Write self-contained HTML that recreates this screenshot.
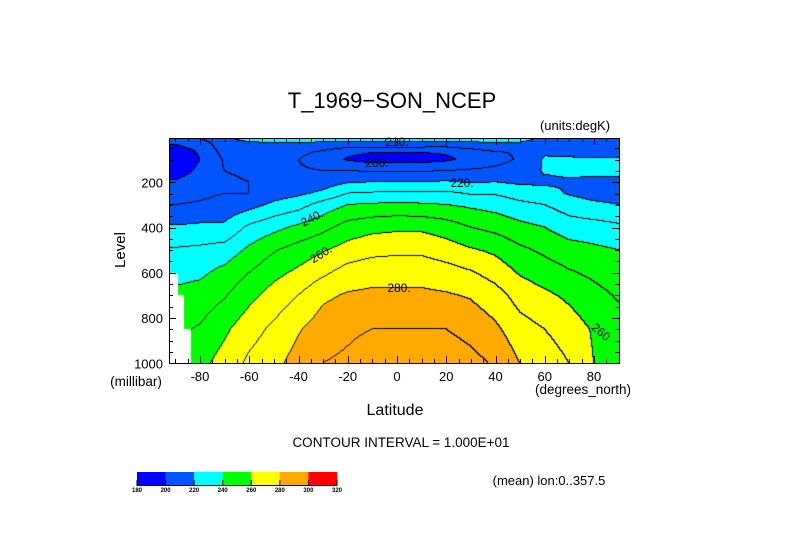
<!DOCTYPE html>
<html><head><meta charset="utf-8">
<style>
html,body{margin:0;padding:0;background:#fff;}
#wrap{position:relative;width:789px;height:558px;overflow:hidden;font-family:"Liberation Sans",sans-serif;}
#cv{position:absolute;left:169px;top:138px;}
svg{position:absolute;left:0;top:0;}
</style></head><body>
<div id="wrap">
<canvas id="cv" width="450" height="225"></canvas>
<svg id="sv" width="789" height="558">
<text x="392" y="108" font-size="22" text-anchor="middle">T_1969−SON_NCEP</text>
<text x="575" y="130" font-size="13" text-anchor="middle">(units:degK)</text>
<text x="125" y="250" font-size="15" text-anchor="middle" transform="rotate(-90 125 250)">Level</text>
<text x="136" y="386" font-size="13.5" text-anchor="middle">(millibar)</text>
<text x="583" y="394" font-size="13.5" text-anchor="middle">(degrees_north)</text>
<text x="395" y="415" font-size="16" text-anchor="middle">Latitude</text>
<text x="401" y="447" font-size="13.5" text-anchor="middle">CONTOUR INTERVAL = 1.000E+01</text>
<text x="549" y="485" font-size="13" text-anchor="middle">(mean) lon:0..357.5</text>
<g id="labels" font-size="12" fill="#000">
<text x="397" y="146" text-anchor="middle">210.</text>
<text x="377" y="167" text-anchor="middle">200.</text>
<text x="462" y="187" text-anchor="middle">220.</text>
<text x="312" y="222" text-anchor="middle" transform="rotate(-28 312 218)">240.</text>
<text x="321" y="258" text-anchor="middle" transform="rotate(-32 321 254)">260.</text>
<text x="399" y="292" text-anchor="middle">280.</text>
<text x="601" y="336" text-anchor="middle" transform="rotate(40 601 332)">260</text>
</g>
<g id="axes"></g>
<g id="cbar"></g>
</svg>
</div>
<script>
// ---- data ----
const lats=[-90,-80,-70,-60,-50,-40,-30,-20,-10,0,10,20,30,40,50,60,70,80,90];
const levels=[5,30,70,100,150,200,250,300,400,500,600,700,850,1000];
const tS90=[207,201,193,191,195,201,206,210,221,231,237,242,248,253];
const tS80=[210,205,201,200,202,205,208,211,222,232,238,244,251,257];
const tS70=[219,216,213,211,210,209,210,213,222,234,243,249,258,264];
const tS60=[223,219,214,212,211,210,210,216,232,242,250,257,266,272];
const tS50=[224,219,213,211,211,212,215,222,237,249,257,264,272,277];
const tS40=[225,219,212,210,211,213,218,226,242,254,262,270,279,284];
const tS30=[226,218,208,206,210,215,222,234,247,259,268,278,285,290];
const tS20=[227,217,202,199,210,219,230,240,254,264,274,281,288,292];
const tS10=[228,217,200,196,209,220,231,241,257,267,276,282,290,296];
const tEq =[228,217,200,196,209,220,232,242,258,268,276,282,290,297];
const tN10=[228,217,200,196,209,220,232,241,258,268,276,282,290,296];
const tN20=[227,216,201,198,210,221,232,240,255,265,274,281,290,296];
const tN30=[226,218,205,203,211,219,229,238,250,261,271,279,287,293];
const tN40=[225,219,209,207,212,220,229,236,247,258,266,274,282,289];
const tN50=[224,219,211,211,214,218,226,232,243,252,259,266,274,280];
const tN60=[217,217,219,221,221,218,224,230,240,248,255,262,270,276];
const tN70=[214,215,218,221,222,219,219,225,235,244,251,258,265,270];
const tN80=[213,214,217,221,222,218,216,222,234,242,248,253,259,260];
const tN90=[212,213,217,221,222,218,215,220,232,240,245,249,254,257];
const grid=[tS90,tS80,tS70,tS60,tS50,tS40,tS30,tS20,tS10,tEq,tN10,tN20,tN30,tN40,tN50,tN60,tN70,tN80,tN90];
const bandColors=["#0000ff","#0055ff","#00ffff","#00ff00","#ffff00","#ffaa00","#ff0000"];
const cbarTicks=[180,200,220,240,260,280,300,320];
const xTickLabels=[-80,-60,-40,-20,0,20,40,60,80];
const yTickLabels=[200,400,600,800,1000];
// below-ground (missing) mask: [level threshold, latitude edge]
const groundLevels=[600,700,850];
const groundLats=[-89,-86.6,-83.8];

// ---- scales ----
const X0=169,X1=619,Y0=138,Y1=363;
function xs(lat){return 397+2.4625*lat;}
function ys(p){return 137+0.22625*p;}
function latOf(x){return (x-397)/2.4625;}
function pOf(y){return (y-137)/0.22625;}

function T(lat,p){
  lat=Math.max(-90,Math.min(90,lat));
  p=Math.max(levels[0],Math.min(1000,p));
  let i=Math.min(lats.length-2,Math.floor((lat+90)/10));
  let fx=(lat-lats[i])/10;
  let j=0; while(j<levels.length-2 && p>levels[j+1]) j++;
  let fy=(p-levels[j])/(levels[j+1]-levels[j]);
  const a=grid[i][j],b=grid[i+1][j],c=grid[i][j+1],d=grid[i+1][j+1];
  return (a*(1-fx)+b*fx)*(1-fy)+(c*(1-fx)+d*fx)*fy;
}
function missing(lat,p){
  for(let k=0;k<groundLevels.length;k++){ if(p>=groundLevels[k]&&lat<groundLats[k]) return true; }
  return false;
}
function hex(h){return [parseInt(h.substr(1,2),16),parseInt(h.substr(3,2),16),parseInt(h.substr(5,2),16)];}
const rgb=bandColors.map(hex);

// ---- draw field ----
(function(){
  const cv=document.getElementById('cv');const ctx=cv.getContext('2d');
  const W=cv.width,H=cv.height;const img=ctx.createImageData(W,H);
  const tv=new Float32Array(W*H);const ms=new Uint8Array(W*H);
  for(let y=0;y<H;y++)for(let x=0;x<W;x++){
    const la=latOf(X0+x+0.5),p=pOf(Y0+y+0.5);
    tv[y*W+x]=T(la,p);ms[y*W+x]=missing(la,p)?1:0;
  }
  for(let y=0;y<H;y++)for(let x=0;x<W;x++){
    const k=y*W+x;let c;
    if(ms[k]){c=[255,255,255];}
    else{
      const t=tv[k];let bi=Math.floor((t-180)/20);bi=Math.max(0,Math.min(6,bi));c=rgb[bi];
      const lv=Math.floor(t/10);let line=false;
      if(x+1<W&&!ms[k+1]&&Math.floor(tv[k+1]/10)!==lv)line=true;
      if(y+1<H&&!ms[k+W]&&Math.floor(tv[k+W]/10)!==lv)line=true;
      if(line)c=[0,0,0];
    }
    img.data[k*4]=c[0];img.data[k*4+1]=c[1];img.data[k*4+2]=c[2];img.data[k*4+3]=255;
  }
  ctx.putImageData(img,0,0);
})();

// ---- axes ----
(function(){
  const NS="http://www.w3.org/2000/svg";const g=document.getElementById('axes');
  function el(t,a){const e=document.createElementNS(NS,t);for(const k in a)e.setAttribute(k,a[k]);g.appendChild(e);return e;}
  const frame=el('rect',{x:X0+0.5,y:Y0+0.5,width:X1-X0,height:Y1-Y0,fill:'none',stroke:'#000','stroke-width':1});
  
  
  for(let la=-90;la<=90;la+=5){
    const x=Math.round(xs(la))+0.5;const major=(la%20===0);const L=major?7:4;
    const t1=el('line',{x1:x,x2:x,y1:Y1,y2:Y1-L,stroke:'#000'});
    
    
    const t2=el('line',{x1:x,x2:x,y1:Y0,y2:Y0+L,stroke:'#000'});
    
    
  }
  xTickLabels.forEach(v=>{
    const t=el('text',{x:xs(v),y:381,'font-size':13,'text-anchor':'middle'});t.textContent=String(v);
    
    
  });
  for(let p=50;p<=1000;p+=50){
    const y=Math.round(ys(p))+0.5;const major=(p%200===0);const L=major?7:4;
    const t1=el('line',{x1:X0,x2:X0+L,y1:y,y2:y,stroke:'#000'});
    
    
    const t2=el('line',{x1:X1,x2:X1-L,y1:y,y2:y,stroke:'#000'});
    
    
  }
  yTickLabels.forEach(v=>{
    const t=el('text',{x:163,y:ys(v)+5,'font-size':13,'text-anchor':'end'});t.textContent=String(v);
    
    
  });
})();

// ---- colorbar ----
(function(){
  const NS="http://www.w3.org/2000/svg";const g=document.getElementById('cbar');
  const cx0=137,cx1=337,cy0=472,cy1=485;const n=bandColors.length;const w=(cx1-cx0)/n;
  bandColors.forEach((c,i)=>{
    const r=document.createElementNS(NS,'rect');
    r.setAttribute('x',cx0+i*w);r.setAttribute('y',cy0);r.setAttribute('width',w+0.3);r.setAttribute('height',cy1-cy0);r.setAttribute('fill',c);
    
    
    g.appendChild(r);
  });
  const base=document.createElementNS(NS,'line');
  base.setAttribute('x1',cx0);base.setAttribute('x2',cx1);base.setAttribute('y1',cy1+0.5);base.setAttribute('y2',cy1+0.5);base.setAttribute('stroke','#000');
  
  
  g.appendChild(base);
  cbarTicks.forEach((v,i)=>{
    const x=cx0+i*w;
    const tk=document.createElementNS(NS,'line');
    tk.setAttribute('x1',x);tk.setAttribute('x2',x);tk.setAttribute('y1',cy1-5);tk.setAttribute('y2',cy1+1);tk.setAttribute('stroke','#000');
    
    
    g.appendChild(tk);
    const t=document.createElementNS(NS,'text');
    t.setAttribute('x',x);t.setAttribute('y',cy1+7);t.setAttribute('font-size','6');t.setAttribute('font-weight','bold');t.setAttribute('text-anchor','middle');
    t.textContent=String(v);
    
    
    g.appendChild(t);
  });
})();
</script>
</body></html>
